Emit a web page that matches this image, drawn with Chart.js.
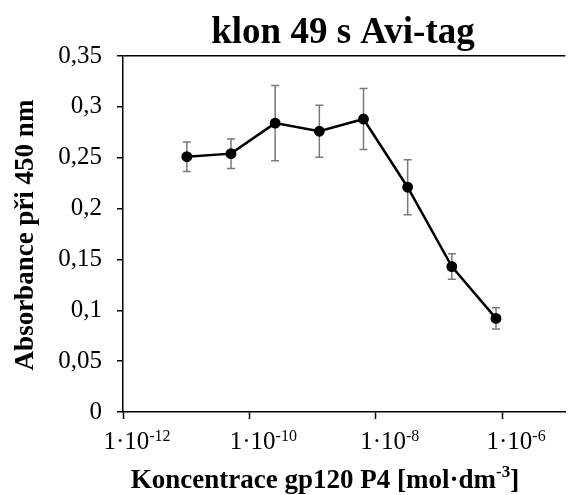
<!DOCTYPE html>
<html><head><meta charset="utf-8">
<script src="https://cdn.jsdelivr.net/npm/chart.js@4/dist/chart.umd.min.js"></script>
<style>html,body{margin:0;padding:0;background:#fff}#wrap{width:572px;height:495px;position:relative}</style>
</head><body><div id="wrap"><canvas id="c"></canvas></div>
<script>
// ---- data ----
const concentrations = [1.024e-11, 5.12e-11, 2.56e-10, 1.28e-9, 6.4e-9, 3.2e-8, 1.6e-7, 8e-7];
const absorbance     = [0.251, 0.254, 0.284, 0.276, 0.288, 0.221, 0.143, 0.092];
const errors         = [0.0145, 0.0145, 0.037, 0.0255, 0.030, 0.027, 0.0125, 0.0105];
const xTickValues    = [1e-12, 1e-10, 1e-8, 1e-6];
const xTickBase      = '1·10';
const xTickExponents = ['-12', '-10', '-8', '-6'];
const chartTitle     = 'klon 49 s Avi-tag';
const xTitleMain     = 'Koncentrace gp120 P4 [mol·dm';
const xTitleSup      = '-3';
const xTitleEnd      = ']';
const yTitle         = 'Absorbance při 450 nm';

const FONT = '"Liberation Serif", "Times New Roman", serif';

const points = concentrations.map((c, i) => ({x: c, y: absorbance[i]}));

const decor = {
  id: 'decor',
  beforeDatasetsDraw(chart) {
    const {ctx, scales: {x, y}} = chart;
    ctx.save();
    ctx.strokeStyle = '#7a7a7a';
    ctx.lineWidth = 1.5;
    concentrations.forEach((c, i) => {
      const px = x.getPixelForValue(c);
      const top = y.getPixelForValue(absorbance[i] + errors[i]);
      const bot = y.getPixelForValue(absorbance[i] - errors[i]);
      ctx.beginPath();
      ctx.moveTo(px, top); ctx.lineTo(px, bot);
      ctx.moveTo(px - 4, top); ctx.lineTo(px + 4, top);
      ctx.moveTo(px - 4, bot); ctx.lineTo(px + 4, bot);
      ctx.stroke();
    });
    ctx.restore();
  },
  afterDraw(chart) {
    const {ctx, scales: {x}} = chart;
    ctx.save();
    ctx.fillStyle = '#000';
    // title
    ctx.font = 'bold 37px ' + FONT;
    ctx.textAlign = 'center';
    ctx.textBaseline = 'alphabetic';
    ctx.fillText(chartTitle, 343, 43);
    // x tick labels with superscripts
    xTickValues.forEach((v, i) => {
      const px = x.getPixelForValue(v);
      ctx.font = '25px ' + FONT;
      const wb = ctx.measureText(xTickBase).width;
      ctx.font = '16px ' + FONT;
      const ws = ctx.measureText(xTickExponents[i]).width;
      const start = px + 14 - (wb + ws) / 2;
      ctx.textAlign = 'left';
      ctx.font = '25px ' + FONT;
      ctx.fillText(xTickBase, start, 449);
      ctx.font = '16px ' + FONT;
      ctx.fillText(xTickExponents[i], start + wb, 441);
    });
    // x title
    ctx.font = 'bold 27px ' + FONT;
    const w1 = ctx.measureText(xTitleMain).width;
    const w3 = ctx.measureText(xTitleEnd).width;
    ctx.font = 'bold 17px ' + FONT;
    const w2 = ctx.measureText(xTitleSup).width;
    let sx = 325 - (w1 + w2 + w3) / 2;
    ctx.textAlign = 'left';
    ctx.font = 'bold 27px ' + FONT;
    ctx.fillText(xTitleMain, sx, 488);
    ctx.font = 'bold 17px ' + FONT;
    ctx.fillText(xTitleSup, sx + w1, 477);
    ctx.font = 'bold 27px ' + FONT;
    ctx.fillText(xTitleEnd, sx + w1 + w2, 488);
    // y title
    ctx.translate(33, 235);
    ctx.rotate(-Math.PI / 2);
    ctx.textAlign = 'center';
    ctx.font = 'bold 27px ' + FONT;
    ctx.fillText(yTitle, 0, 0);
    ctx.restore();
  }
};

new Chart(document.getElementById('c'), {
  type: 'scatter',
  data: {
    datasets: [{
      data: points,
      showLine: true,
      borderColor: '#000',
      backgroundColor: '#000',
      borderWidth: 2.5,
      pointRadius: 4.2,
      pointHoverRadius: 4.2,
      pointBackgroundColor: '#000',
      pointBorderColor: '#000',
      tension: 0
    }]
  },
  options: {
    responsive: true,
    maintainAspectRatio: false,
    animation: false,
    events: [],
    layout: {padding: {top: 56, left: 0, right: 0, bottom: 0}},
    plugins: {legend: {display: false}, tooltip: {enabled: false}, title: {display: false}},
    scales: {
      x: {
        type: 'logarithmic',
        min: 1e-12,
        max: 1e-5,
        afterBuildTicks: (s) => { s.ticks = xTickValues.map(v => ({value: v})); },
        afterFit: (s) => { s.height = 83; },
        ticks: {display: false},
        grid: {drawOnChartArea: false, drawTicks: true, tickLength: 7, tickColor: '#000', tickWidth: 1.5},
        border: {color: '#000', width: 1.5}
      },
      y: {
        min: 0,
        max: 0.35,
        afterFit: (s) => { s.width = 123; },
        ticks: {
          stepSize: 0.05,
          color: '#000',
          padding: 15,
          font: {family: FONT, size: 25},
          callback: (v) => String(Number(v.toFixed(2))).replace('.', ',')
        },
        grid: {
          drawTicks: true,
          tickLength: 6,
          tickColor: '#000',
          tickWidth: 1.5,
          lineWidth: 1.5,
          color: (c) => (c.tick && c.tick.value > 0.349) ? '#000' : 'rgba(0,0,0,0)'
        },
        border: {color: '#000', width: 1.5}
      }
    }
  },
  plugins: [decor]
});
</script>
</body></html>
